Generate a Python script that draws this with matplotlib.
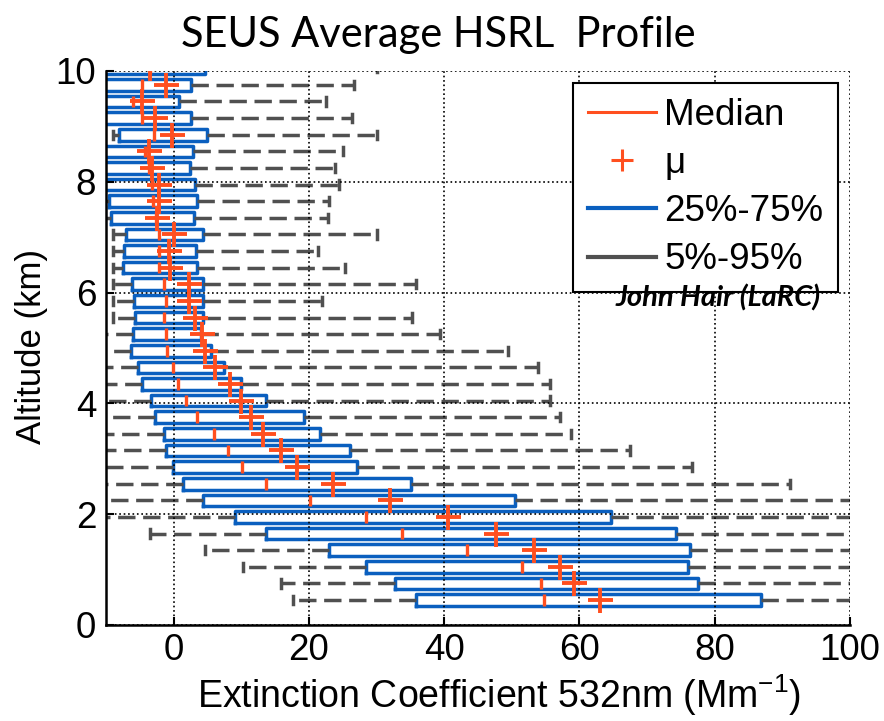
import matplotlib
matplotlib.use("Agg")
import matplotlib.pyplot as plt
from matplotlib.lines import Line2D

plt.rcParams['font.family'] = ['Liberation Sans', 'DejaVu Sans']
plt.rcParams['mathtext.fontset'] = 'custom'
plt.rcParams['mathtext.rm'] = 'Liberation Sans'
plt.rcParams['mathtext.it'] = 'Liberation Sans:italic'
plt.rcParams['mathtext.default'] = 'regular'

# Altitude bin centres (km), bottom to top
altitude = [0.45, 0.75, 1.05, 1.35, 1.65, 1.95, 2.25, 2.55, 2.85, 3.15, 3.45,
            3.75, 4.05, 4.35, 4.65, 4.95, 5.25, 5.55, 5.85, 6.15, 6.45, 6.75,
            7.05, 7.35, 7.65, 7.95, 8.25, 8.55, 8.85, 9.15, 9.45, 9.75, 10.05]
# Extinction statistics (Mm^-1)
q25 = [35.8, 32.7, 28.4, 23.0, 13.7, 9.0, 4.4, 1.4, -0.1, -1.1, -1.4,
       -2.7, -3.4, -4.7, -5.3, -6.3, -6.0, -5.7, -5.9, -6.1, -7.5, -7.3,
       -7.0, -9.2, -9.6, -10.5, -10.5, -10.5, -8.1, -10.5, -10.5, -10.5, -10.5]
q75 = [86.9, 77.6, 76.1, 76.3, 74.3, 64.7, 50.4, 35.1, 27.1, 26.1, 21.6,
       19.3, 13.7, 10.0, 7.4, 5.5, 4.0, 4.3, 4.3, 4.3, 3.5, 3.3,
       4.3, 3.0, 3.5, 3.2, 2.4, 2.9, 4.9, 2.5, 0.8, 2.6, 4.7]
median = [54.7, 54.3, 51.5, 43.4, 33.7, 28.4, 20.1, 13.6, 10.1, 8.0, 6.0,
          3.5, 1.9, 0.6, -0.1, -1.0, -1.2, -1.4, -1.1, -1.4, -2.2, -2.2,
          -2.1, -2.6, -3.0, -3.2, -3.7, -4.2, -2.9, -4.7, -6.0, -4.7, -3.5]
mean = [63.0, 59.2, 57.1, 53.3, 47.7, 40.6, 32.0, 23.6, 18.2, 15.9, 13.2,
        11.5, 9.9, 8.3, 6.1, 4.7, 4.2, 3.2, 2.2, 2.2, -0.5, -0.7,
        0.0, -2.4, -2.2, -2.2, -3.2, -3.6, -0.3, -2.7, -4.7, -1.2, -3.5]
p05 = [17.7, 15.8, 10.3, 4.7, -3.5, -15, -15, -15, -15, -15, -15,
       -15, -15, -15, -15, -15, -15, -9, -9, -9, -9, -9,
       -9, -10.5, -11, -15, -15, -15, -9, -15, -15, -15, -15]
p95 = [115, 115, 115, 115, 115, 115, 115, 91.2, 76.7, 67.5, 58.7,
       57.1, 55.6, 55.6, 53.8, 49.4, 39.4, 35.2, 21.9, 35.8, 25.3, 21.4,
       30.0, 22.8, 23.0, 24.5, 23.9, 25.1, 30.0, 26.3, 22.5, 26.7, 30.0]

x_ticks = [0, 20, 40, 60, 80, 100]
y_ticks = [0, 2, 4, 6, 8, 10]

BLUE = '#0a5fbf'
ORANGE = '#ff4f1f'
GRAY = '#505050'

fig = plt.figure(figsize=(8.84, 7.21), dpi=100)
ax = fig.add_axes([106/884, 1-625/721, (850-106)/884, (625-71)/721])

stats = []
for i in range(len(altitude)):
    stats.append(dict(med=median[i], q1=q25[i], q3=q75[i], whislo=p05[i],
                      whishi=p95[i], mean=mean[i], fliers=[]))

ax.bxp(stats, positions=altitude, widths=0.21, orientation='horizontal',
       showmeans=True, meanline=False, showfliers=False, manage_ticks=False,
       capwidths=0.15,
       boxprops=dict(color=BLUE, lw=2.5),
       medianprops=dict(color=ORANGE, lw=2.4, zorder=3),
       whiskerprops=dict(color=GRAY, lw=2.5, linestyle=(0, (5.0, 2.2))),
       capprops=dict(color=GRAY, lw=2.5),
       meanprops=dict(marker='+', markeredgecolor=ORANGE, markerfacecolor=ORANGE,
                      markersize=18, markeredgewidth=2.8, zorder=4))

ax.set_xlim(-10, 100)
ax.set_ylim(0, 10)
ax.set_xticks(x_ticks)
ax.set_yticks(y_ticks)
ax.set_xticklabels([str(v) for v in x_ticks])
ax.set_yticklabels([str(v) for v in y_ticks])
ax.tick_params(direction='in', length=6, width=1.5, labelsize=26.5, pad=7,
               colors='black')
ax.tick_params(axis='x', pad=6)
ax.grid(True, linestyle=':', color='black', lw=1.2)
ax.set_axisbelow(False)
for s in ['top', 'right']:
    ax.spines[s].set_visible(False)
for s in ['left', 'bottom']:
    ax.spines[s].set_linewidth(1.8)

handles = [Line2D([], [], color=ORANGE, lw=2.2),
           Line2D([], [], color=ORANGE, marker='+', ls='none', ms=16, mew=2.2),
           Line2D([], [], color=BLUE, lw=3),
           Line2D([], [], color=GRAY, lw=3)]
labels = ['Median', 'μ', '25%-75%', '5%-95%']
leg = fig.legend(handles, labels, loc='upper right',
                 bbox_to_anchor=(838/884, 1-83/721), fontsize=26.5,
                 frameon=True, fancybox=False, framealpha=1, edgecolor='black',
                 handlelength=1.85, handletextpad=0.22, labelspacing=0.36,
                 borderpad=0.4, borderaxespad=0)
leg.get_frame().set_linewidth(1.5)
leg.set_zorder(5)

fig.text(718/884, 1-298/721, 'John Hair (LaRC)', family=['Lato', 'DejaVu Sans'],
         style='italic', weight='bold', fontsize=21, ha='center', va='center',
         zorder=10)

fig.text(438/884, 1-35/721, 'SEUS Average HSRL  Profile',
         family=['Lato', 'DejaVu Sans'], fontsize=30, ha='center', va='center')
fig.text(499/884, 1-695/721, 'Extinction Coefficient 532nm (Mm$^{-1}$)',
         fontsize=27, ha='center', va='center')
fig.text(32/884, 1-346/721, 'Altitude (km)', fontsize=25, rotation=90,
         ha='center', va='center')

fig.savefig('out.png', dpi=100)
